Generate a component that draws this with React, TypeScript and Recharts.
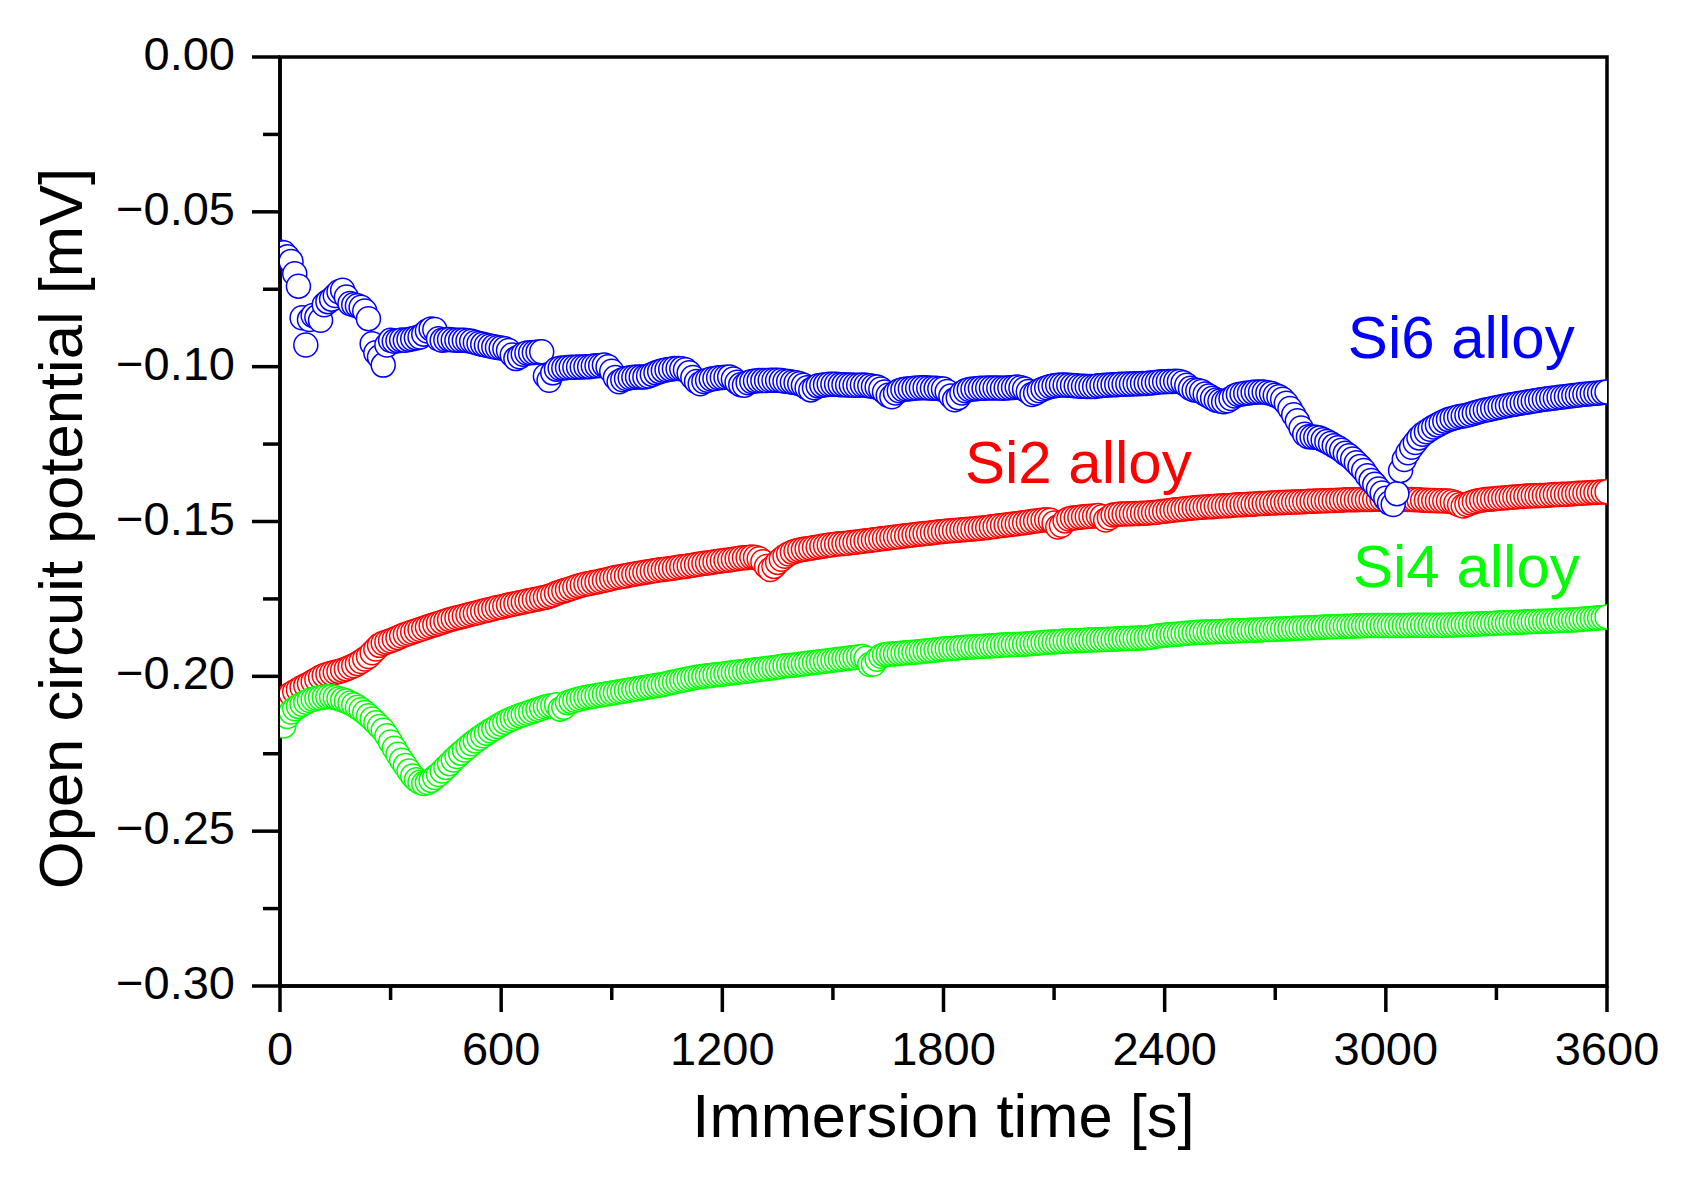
import React from 'react';
import { ScatterChart, Scatter, XAxis, YAxis, ReferenceArea, ReferenceDot } from 'recharts';

// Immersion time [s], one reading every 10 s
const TIMES = [
  0, 10, 20, 30, 40, 50, 60, 70, 80, 90,
  100, 110, 120, 130, 140, 150, 160, 170, 180, 190,
  200, 210, 220, 230, 240, 250, 260, 270, 280, 290,
  300, 310, 320, 330, 340, 350, 360, 370, 380, 390,
  400, 410, 420, 430, 440, 450, 460, 470, 480, 490,
  500, 510, 520, 530, 540, 550, 560, 570, 580, 590,
  600, 610, 620, 630, 640, 650, 660, 670, 680, 690,
  700, 710, 720, 730, 740, 750, 760, 770, 780, 790,
  800, 810, 820, 830, 840, 850, 860, 870, 880, 890,
  900, 910, 920, 930, 940, 950, 960, 970, 980, 990,
  1000, 1010, 1020, 1030, 1040, 1050, 1060, 1070, 1080, 1090,
  1100, 1110, 1120, 1130, 1140, 1150, 1160, 1170, 1180, 1190,
  1200, 1210, 1220, 1230, 1240, 1250, 1260, 1270, 1280, 1290,
  1300, 1310, 1320, 1330, 1340, 1350, 1360, 1370, 1380, 1390,
  1400, 1410, 1420, 1430, 1440, 1450, 1460, 1470, 1480, 1490,
  1500, 1510, 1520, 1530, 1540, 1550, 1560, 1570, 1580, 1590,
  1600, 1610, 1620, 1630, 1640, 1650, 1660, 1670, 1680, 1690,
  1700, 1710, 1720, 1730, 1740, 1750, 1760, 1770, 1780, 1790,
  1800, 1810, 1820, 1830, 1840, 1850, 1860, 1870, 1880, 1890,
  1900, 1910, 1920, 1930, 1940, 1950, 1960, 1970, 1980, 1990,
  2000, 2010, 2020, 2030, 2040, 2050, 2060, 2070, 2080, 2090,
  2100, 2110, 2120, 2130, 2140, 2150, 2160, 2170, 2180, 2190,
  2200, 2210, 2220, 2230, 2240, 2250, 2260, 2270, 2280, 2290,
  2300, 2310, 2320, 2330, 2340, 2350, 2360, 2370, 2380, 2390,
  2400, 2410, 2420, 2430, 2440, 2450, 2460, 2470, 2480, 2490,
  2500, 2510, 2520, 2530, 2540, 2550, 2560, 2570, 2580, 2590,
  2600, 2610, 2620, 2630, 2640, 2650, 2660, 2670, 2680, 2690,
  2700, 2710, 2720, 2730, 2740, 2750, 2760, 2770, 2780, 2790,
  2800, 2810, 2820, 2830, 2840, 2850, 2860, 2870, 2880, 2890,
  2900, 2910, 2920, 2930, 2940, 2950, 2960, 2970, 2980, 2990,
  3000, 3010, 3020, 3030, 3040, 3050, 3060, 3070, 3080, 3090,
  3100, 3110, 3120, 3130, 3140, 3150, 3160, 3170, 3180, 3190,
  3200, 3210, 3220, 3230, 3240, 3250, 3260, 3270, 3280, 3290,
  3300, 3310, 3320, 3330, 3340, 3350, 3360, 3370, 3380, 3390,
  3400, 3410, 3420, 3430, 3440, 3450, 3460, 3470, 3480, 3490,
  3500, 3510, 3520, 3530, 3540, 3550, 3560, 3570, 3580, 3590,
  3600,
];

// Open circuit potential [mV] — Si2 alloy
const SI2 = [
  -0.2083, -0.2074, -0.2065, -0.2057, -0.2050, -0.2043, -0.2036, -0.2030, -0.2024, -0.2017,
  -0.2010, -0.2003, -0.1997, -0.1993, -0.1990, -0.1987, -0.1984, -0.1980, -0.1976, -0.1971,
  -0.1966, -0.1959, -0.1952, -0.1944, -0.1936, -0.1924, -0.1912, -0.1900, -0.1893, -0.1889,
  -0.1885, -0.1880, -0.1875, -0.1870, -0.1865, -0.1861, -0.1857, -0.1853, -0.1849, -0.1845,
  -0.1841, -0.1837, -0.1833, -0.1829, -0.1825, -0.1821, -0.1817, -0.1814, -0.1811, -0.1808,
  -0.1805, -0.1802, -0.1799, -0.1796, -0.1793, -0.1790, -0.1787, -0.1784, -0.1781, -0.1778,
  -0.1776, -0.1773, -0.1770, -0.1767, -0.1765, -0.1762, -0.1760, -0.1757, -0.1755, -0.1752,
  -0.1750, -0.1747, -0.1745, -0.1741, -0.1737, -0.1732, -0.1728, -0.1724, -0.1720, -0.1716,
  -0.1712, -0.1708, -0.1705, -0.1702, -0.1700, -0.1697, -0.1695, -0.1692, -0.1690, -0.1687,
  -0.1684, -0.1681, -0.1679, -0.1677, -0.1675, -0.1672, -0.1670, -0.1668, -0.1666, -0.1664,
  -0.1662, -0.1660, -0.1658, -0.1656, -0.1655, -0.1653, -0.1652, -0.1650, -0.1648, -0.1646,
  -0.1645, -0.1643, -0.1641, -0.1639, -0.1637, -0.1635, -0.1634, -0.1632, -0.1630, -0.1628,
  -0.1627, -0.1625, -0.1624, -0.1622, -0.1620, -0.1618, -0.1617, -0.1616, -0.1615, -0.1616,
  -0.1620, -0.1630, -0.1645, -0.1655, -0.1645, -0.1632, -0.1622, -0.1612, -0.1605, -0.1599,
  -0.1595, -0.1592, -0.1590, -0.1588, -0.1586, -0.1584, -0.1582, -0.1580, -0.1578, -0.1576,
  -0.1575, -0.1573, -0.1572, -0.1571, -0.1570, -0.1568, -0.1567, -0.1565, -0.1564, -0.1562,
  -0.1561, -0.1559, -0.1558, -0.1556, -0.1555, -0.1553, -0.1552, -0.1550, -0.1549, -0.1547,
  -0.1546, -0.1544, -0.1543, -0.1541, -0.1540, -0.1539, -0.1538, -0.1536, -0.1535, -0.1533,
  -0.1532, -0.1531, -0.1530, -0.1529, -0.1528, -0.1527, -0.1526, -0.1525, -0.1524, -0.1523,
  -0.1522, -0.1520, -0.1519, -0.1517, -0.1516, -0.1514, -0.1513, -0.1511, -0.1510, -0.1508,
  -0.1507, -0.1505, -0.1504, -0.1502, -0.1500, -0.1498, -0.1497, -0.1495, -0.1494, -0.1496,
  -0.1505, -0.1518, -0.1512, -0.1498, -0.1492, -0.1489, -0.1488, -0.1486, -0.1485, -0.1484,
  -0.1483, -0.1482, -0.1481, -0.1485, -0.1495, -0.1488, -0.1479, -0.1477, -0.1476, -0.1476,
  -0.1475, -0.1475, -0.1474, -0.1474, -0.1473, -0.1473, -0.1472, -0.1471, -0.1470, -0.1468,
  -0.1467, -0.1465, -0.1464, -0.1462, -0.1461, -0.1460, -0.1458, -0.1457, -0.1456, -0.1455,
  -0.1454, -0.1453, -0.1452, -0.1452, -0.1451, -0.1450, -0.1449, -0.1449, -0.1448, -0.1447,
  -0.1446, -0.1446, -0.1445, -0.1444, -0.1444, -0.1443, -0.1442, -0.1442, -0.1441, -0.1440,
  -0.1440, -0.1439, -0.1439, -0.1438, -0.1438, -0.1437, -0.1437, -0.1436, -0.1436, -0.1435,
  -0.1435, -0.1434, -0.1434, -0.1433, -0.1433, -0.1432, -0.1432, -0.1431, -0.1431, -0.1430,
  -0.1430, -0.1430, -0.1430, -0.1429, -0.1429, -0.1429, -0.1429, -0.1428, -0.1428, -0.1428,
  -0.1428, -0.1428, -0.1428, -0.1428, -0.1428, -0.1428, -0.1429, -0.1429, -0.1430, -0.1430,
  -0.1431, -0.1431, -0.1432, -0.1432, -0.1433, -0.1433, -0.1434, -0.1434, -0.1436, -0.1440,
  -0.1446, -0.1450, -0.1445, -0.1440, -0.1436, -0.1433, -0.1431, -0.1429, -0.1428, -0.1427,
  -0.1426, -0.1425, -0.1424, -0.1423, -0.1422, -0.1421, -0.1420, -0.1419, -0.1418, -0.1418,
  -0.1417, -0.1417, -0.1416, -0.1416, -0.1415, -0.1414, -0.1413, -0.1413, -0.1412, -0.1412,
  -0.1411, -0.1410, -0.1409, -0.1409, -0.1408, -0.1407, -0.1406, -0.1406, -0.1405, -0.1405,
  -0.1404,
];

// Open circuit potential [mV] — Si4 alloy
const SI4 = [
  -0.2155, -0.2160, -0.2130, -0.2115, -0.2105, -0.2097, -0.2090, -0.2084, -0.2078, -0.2074,
  -0.2071, -0.2069, -0.2067, -0.2066, -0.2066, -0.2068, -0.2072, -0.2076, -0.2080, -0.2086,
  -0.2092, -0.2100, -0.2108, -0.2117, -0.2127, -0.2138, -0.2150, -0.2162, -0.2174, -0.2192,
  -0.2212, -0.2232, -0.2252, -0.2271, -0.2288, -0.2306, -0.2322, -0.2334, -0.2342, -0.2346,
  -0.2343, -0.2336, -0.2327, -0.2317, -0.2306, -0.2294, -0.2282, -0.2270, -0.2259, -0.2248,
  -0.2238, -0.2228, -0.2218, -0.2209, -0.2200, -0.2192, -0.2184, -0.2176, -0.2169, -0.2162,
  -0.2155, -0.2148, -0.2142, -0.2137, -0.2132, -0.2127, -0.2123, -0.2119, -0.2115, -0.2111,
  -0.2107, -0.2103, -0.2099, -0.2096, -0.2094, -0.2092, -0.2106, -0.2100, -0.2085, -0.2081,
  -0.2077, -0.2074, -0.2071, -0.2068, -0.2066, -0.2064, -0.2062, -0.2060, -0.2058, -0.2056,
  -0.2054, -0.2052, -0.2050, -0.2048, -0.2046, -0.2044, -0.2042, -0.2040, -0.2038, -0.2036,
  -0.2034, -0.2032, -0.2030, -0.2028, -0.2026, -0.2023, -0.2020, -0.2018, -0.2015, -0.2013,
  -0.2010, -0.2008, -0.2005, -0.2003, -0.2001, -0.2000, -0.1998, -0.1997, -0.1995, -0.1994,
  -0.1993, -0.1991, -0.1990, -0.1988, -0.1987, -0.1985, -0.1984, -0.1982, -0.1981, -0.1979,
  -0.1978, -0.1976, -0.1975, -0.1973, -0.1972, -0.1970, -0.1968, -0.1966, -0.1965, -0.1964,
  -0.1963, -0.1961, -0.1960, -0.1958, -0.1957, -0.1955, -0.1954, -0.1952, -0.1951, -0.1949,
  -0.1948, -0.1946, -0.1945, -0.1943, -0.1942, -0.1940, -0.1939, -0.1937, -0.1936, -0.1942,
  -0.1962, -0.1960, -0.1945, -0.1935, -0.1930, -0.1929, -0.1928, -0.1927, -0.1926, -0.1925,
  -0.1924, -0.1923, -0.1922, -0.1921, -0.1920, -0.1918, -0.1917, -0.1916, -0.1915, -0.1913,
  -0.1912, -0.1911, -0.1910, -0.1909, -0.1908, -0.1907, -0.1906, -0.1905, -0.1905, -0.1904,
  -0.1904, -0.1903, -0.1902, -0.1901, -0.1901, -0.1900, -0.1899, -0.1898, -0.1898, -0.1897,
  -0.1897, -0.1896, -0.1896, -0.1895, -0.1894, -0.1893, -0.1892, -0.1891, -0.1890, -0.1889,
  -0.1889, -0.1888, -0.1887, -0.1886, -0.1886, -0.1885, -0.1885, -0.1884, -0.1884, -0.1883,
  -0.1883, -0.1882, -0.1882, -0.1881, -0.1881, -0.1880, -0.1880, -0.1879, -0.1879, -0.1878,
  -0.1878, -0.1877, -0.1877, -0.1876, -0.1876, -0.1875, -0.1874, -0.1872, -0.1870, -0.1868,
  -0.1867, -0.1866, -0.1865, -0.1864, -0.1863, -0.1862, -0.1861, -0.1860, -0.1859, -0.1858,
  -0.1858, -0.1857, -0.1857, -0.1856, -0.1856, -0.1855, -0.1855, -0.1854, -0.1854, -0.1853,
  -0.1853, -0.1852, -0.1852, -0.1851, -0.1851, -0.1850, -0.1850, -0.1849, -0.1849, -0.1848,
  -0.1848, -0.1847, -0.1847, -0.1846, -0.1846, -0.1845, -0.1845, -0.1844, -0.1844, -0.1843,
  -0.1843, -0.1842, -0.1842, -0.1841, -0.1841, -0.1840, -0.1840, -0.1839, -0.1839, -0.1838,
  -0.1838, -0.1838, -0.1837, -0.1837, -0.1837, -0.1836, -0.1836, -0.1836, -0.1836, -0.1836,
  -0.1836, -0.1836, -0.1836, -0.1836, -0.1836, -0.1836, -0.1836, -0.1835, -0.1835, -0.1835,
  -0.1835, -0.1835, -0.1835, -0.1835, -0.1835, -0.1835, -0.1835, -0.1834, -0.1834, -0.1834,
  -0.1833, -0.1833, -0.1832, -0.1832, -0.1831, -0.1831, -0.1830, -0.1830, -0.1829, -0.1829,
  -0.1828, -0.1828, -0.1827, -0.1827, -0.1826, -0.1826, -0.1825, -0.1825, -0.1824, -0.1824,
  -0.1823, -0.1823, -0.1822, -0.1822, -0.1821, -0.1821, -0.1820, -0.1820, -0.1819, -0.1819,
  -0.1818, -0.1818, -0.1817, -0.1816, -0.1815, -0.1814, -0.1813, -0.1812, -0.1811, -0.1810,
  -0.1808,
];

// Open circuit potential [mV] — Si6 alloy
const SI6 = [
  -0.0630, -0.0632, -0.0645, -0.0660, -0.0700, -0.0740, -0.0842, -0.0930, -0.0848, -0.0835,
  -0.0840, -0.0850, -0.0800, -0.0790, -0.0782, -0.0770, -0.0758, -0.0753, -0.0775, -0.0796,
  -0.0800, -0.0803, -0.0808, -0.0820, -0.0845, -0.0926, -0.0955, -0.0969, -0.0995, -0.0930,
  -0.0915, -0.0918, -0.0916, -0.0914, -0.0915, -0.0912, -0.0910, -0.0907, -0.0904, -0.0895,
  -0.0885, -0.0878, -0.0880, -0.0910, -0.0915, -0.0913, -0.0912, -0.0914, -0.0915, -0.0915,
  -0.0915, -0.0916, -0.0918, -0.0922, -0.0925, -0.0928, -0.0931, -0.0933, -0.0936, -0.0938,
  -0.0940, -0.0942, -0.0948, -0.0962, -0.0974, -0.0968, -0.0960, -0.0956, -0.0955, -0.0954,
  -0.0953, -0.0952, -0.1030, -0.1044, -0.1020, -0.1008, -0.1005, -0.1004, -0.1003, -0.1002,
  -0.1002, -0.1001, -0.1001, -0.1000, -0.1000, -0.0998, -0.0997, -0.0996, -0.0995, -0.1000,
  -0.1015, -0.1035, -0.1049, -0.1042, -0.1038, -0.1036, -0.1034, -0.1033, -0.1033, -0.1033,
  -0.1030, -0.1025, -0.1020, -0.1016, -0.1012, -0.1010, -0.1008, -0.1006, -0.1006, -0.1007,
  -0.1010, -0.1020, -0.1035, -0.1048, -0.1055, -0.1048, -0.1044, -0.1040, -0.1038, -0.1036,
  -0.1035, -0.1034, -0.1033, -0.1040, -0.1050, -0.1058, -0.1060, -0.1052, -0.1048, -0.1046,
  -0.1045, -0.1045, -0.1045, -0.1044, -0.1044, -0.1044, -0.1045, -0.1047, -0.1048, -0.1050,
  -0.1052, -0.1055, -0.1060, -0.1068, -0.1075, -0.1068, -0.1062, -0.1060, -0.1058, -0.1057,
  -0.1057, -0.1057, -0.1058, -0.1058, -0.1059, -0.1059, -0.1060, -0.1060, -0.1059, -0.1060,
  -0.1062, -0.1064, -0.1066, -0.1072, -0.1082, -0.1092, -0.1097, -0.1085, -0.1078, -0.1074,
  -0.1072, -0.1071, -0.1070, -0.1069, -0.1068, -0.1068, -0.1069, -0.1070, -0.1070, -0.1071,
  -0.1072, -0.1080, -0.1095, -0.1107, -0.1100, -0.1085, -0.1078, -0.1074, -0.1072, -0.1071,
  -0.1070, -0.1070, -0.1069, -0.1069, -0.1069, -0.1069, -0.1070, -0.1069, -0.1068, -0.1067,
  -0.1066, -0.1068, -0.1072, -0.1080, -0.1090, -0.1085, -0.1078, -0.1072, -0.1068, -0.1064,
  -0.1062, -0.1060, -0.1059, -0.1059, -0.1060, -0.1061, -0.1062, -0.1063, -0.1063, -0.1064,
  -0.1064, -0.1064, -0.1062, -0.1061, -0.1060, -0.1059, -0.1058, -0.1058, -0.1057, -0.1057,
  -0.1056, -0.1056, -0.1055, -0.1055, -0.1054, -0.1054, -0.1053, -0.1052, -0.1050, -0.1049,
  -0.1049, -0.1048, -0.1048, -0.1047, -0.1048, -0.1052, -0.1060, -0.1070, -0.1075, -0.1077,
  -0.1080, -0.1088, -0.1095, -0.1102, -0.1108, -0.1111, -0.1113, -0.1110, -0.1103, -0.1095,
  -0.1090, -0.1088, -0.1086, -0.1085, -0.1083, -0.1082, -0.1082, -0.1082, -0.1084, -0.1087,
  -0.1092, -0.1097, -0.1105, -0.1118, -0.1135, -0.1155, -0.1175, -0.1198, -0.1218, -0.1226,
  -0.1227, -0.1228, -0.1230, -0.1236, -0.1242, -0.1248, -0.1255, -0.1262, -0.1270, -0.1280,
  -0.1288, -0.1298, -0.1310, -0.1322, -0.1335, -0.1352, -0.1368, -0.1380, -0.1395, -0.1408,
  -0.1425, -0.1440, -0.1445, -0.1410, -0.1335, -0.1300, -0.1278, -0.1260, -0.1245, -0.1230,
  -0.1218, -0.1210, -0.1202, -0.1195, -0.1188, -0.1182, -0.1176, -0.1171, -0.1167, -0.1164,
  -0.1161, -0.1159, -0.1157, -0.1154, -0.1150, -0.1146, -0.1143, -0.1140, -0.1138, -0.1135,
  -0.1133, -0.1130, -0.1128, -0.1125, -0.1123, -0.1121, -0.1119, -0.1117, -0.1115, -0.1113,
  -0.1111, -0.1109, -0.1107, -0.1105, -0.1104, -0.1102, -0.1101, -0.1099, -0.1098, -0.1096,
  -0.1095, -0.1093, -0.1092, -0.1090, -0.1089, -0.1088, -0.1087, -0.1086, -0.1085, -0.1083,
  -0.1082,
];

const X_TICKS = [0, 300, 600, 900, 1200, 1500, 1800, 2100, 2400, 2700, 3000, 3300, 3600];
const X_LABELED = [0, 600, 1200, 1800, 2400, 3000, 3600];
const Y_TICKS = [-0.3, -0.275, -0.25, -0.225, -0.2, -0.175, -0.15, -0.125, -0.1, -0.075, -0.05, -0.025, 0];
const Y_LABELED = [-0.3, -0.25, -0.2, -0.15, -0.1, -0.05, 0];

const RED = '#ff0000';
const GREEN = '#00ff00';
const BLUE = '#0000ff';

// series annotations (anchored in data coordinates)
const SERIES_LABELS = [
  { text: 'Si6 alloy', t: 2897, v: -0.0972, color: BLUE },
  { text: 'Si2 alloy', t: 1858, v: -0.1376, color: RED },
  { text: 'Si4 alloy', t: 2911, v: -0.1711, color: GREEN },
];

const FONT = '"Liberation Sans", Arial, Helvetica, sans-serif';

const toData = (vals: number[]) => TIMES.map((t, i) => ({ t, v: vals[i] }));
const dataSi2 = toData(SI2);
const dataSi4 = toData(SI4);
const dataSi6 = toData(SI6);

const near = (a: number, b: number) => Math.abs(a - b) < 1e-6;

const XTick = (props: any) => {
  const { x, y, payload } = props;
  const major = X_LABELED.some((m) => near(m, payload.value));
  return (
    <g>
      <line x1={x} x2={x} y1={y} y2={y + (major ? 26 : 14)} stroke="#000" strokeWidth={3.5} />
      {major && (
        <text x={x} y={y + 79} textAnchor="middle" fontSize={47} fontFamily={FONT} fill="#000">
          {payload.value}
        </text>
      )}
    </g>
  );
};

const YTick = (props: any) => {
  const { x, y, payload } = props;
  const val = payload.value;
  const major = Y_LABELED.some((m) => near(m, val));
  const label = near(val, 0) ? '0.00' : '\u2212' + Math.abs(val).toFixed(2);
  return (
    <g>
      <line x1={x - (major ? 28 : 17)} x2={x} y1={y} y2={y} stroke="#000" strokeWidth={3.5} />
      {major && (
        <text x={x - 45} y={y + 13} textAnchor="end" fontSize={47} fontFamily={FONT} fill="#000">
          {label}
        </text>
      )}
    </g>
  );
};

const makeShape = (color: string) => (props: any) => {
  const { cx, cy } = props;
  if (cx == null || cy == null) return null;
  return <circle cx={cx} cy={cy} r={12} fill="#fff" stroke={color} strokeWidth={1.5} />;
};

const XTitle = (props: any) => {
  const vb = props.viewBox || {};
  return (
    <text x={vb.x + vb.width / 2} y={vb.y + 151} textAnchor="middle" fontSize={61.5} fontFamily={FONT} fill="#000">
      Immersion time [s]
    </text>
  );
};

const YTitle = (props: any) => {
  const vb = props.viewBox || {};
  const cx = 82;
  const cy = vb.y + vb.height / 2 + 7;
  return (
    <text
      x={cx}
      y={cy}
      transform={`rotate(-90, ${cx}, ${cy})`}
      textAnchor="middle"
      fontSize={61.5}
      fontFamily={FONT}
      fill="#000"
    >
      Open circuit potential [mV]
    </text>
  );
};

const makeSeriesLabel = (text: string, color: string) => (props: any) => {
  const vb = props.viewBox || {};
  return (
    <text x={vb.x} y={vb.y} textAnchor="start" fontSize={60} fontFamily={FONT} fill={color}>
      {text}
    </text>
  );
};

export default function App() {
  return (
    <div style={{ position: 'absolute', left: 0, top: 0, width: 1690, height: 1178, background: '#fff' }}>
      <ScatterChart width={1690} height={1178} margin={{ top: 57, right: 83, bottom: 0, left: 0 }}>
        <XAxis
          dataKey="t"
          type="number"
          domain={[0, 3600]}
          ticks={X_TICKS}
          interval={0}
          allowDataOverflow
          height={192}
          tickSize={0}
          tickMargin={0}
          tickLine={false}
          tick={<XTick />}
          axisLine={{ stroke: '#000', strokeWidth: 3.5 }}
          label={{ content: <XTitle /> }}
        />
        <YAxis
          dataKey="v"
          type="number"
          domain={[-0.3, 0]}
          ticks={Y_TICKS}
          interval={0}
          allowDataOverflow
          width={280}
          tickSize={0}
          tickMargin={0}
          tickLine={false}
          tick={<YTick />}
          axisLine={{ stroke: '#000', strokeWidth: 3.5 }}
          label={{ content: <YTitle /> }}
        />
        <Scatter data={dataSi2} shape={makeShape(RED)} isAnimationActive={false} />
        <Scatter data={dataSi4} shape={makeShape(GREEN)} isAnimationActive={false} />
        <Scatter data={dataSi6} shape={makeShape(BLUE)} isAnimationActive={false} />
        <ReferenceArea x1={0} x2={3600} y1={-0.3} y2={0} fill="none" stroke="#000" strokeWidth={3.5} ifOverflow="visible" />
        {SERIES_LABELS.map((s) => (
          <ReferenceDot
            key={s.text}
            x={s.t}
            y={s.v}
            r={0}
            fill="none"
            stroke="none"
            ifOverflow="visible"
            label={{ content: makeSeriesLabel(s.text, s.color) }}
          />
        ))}
      </ScatterChart>
    </div>
  );
}
